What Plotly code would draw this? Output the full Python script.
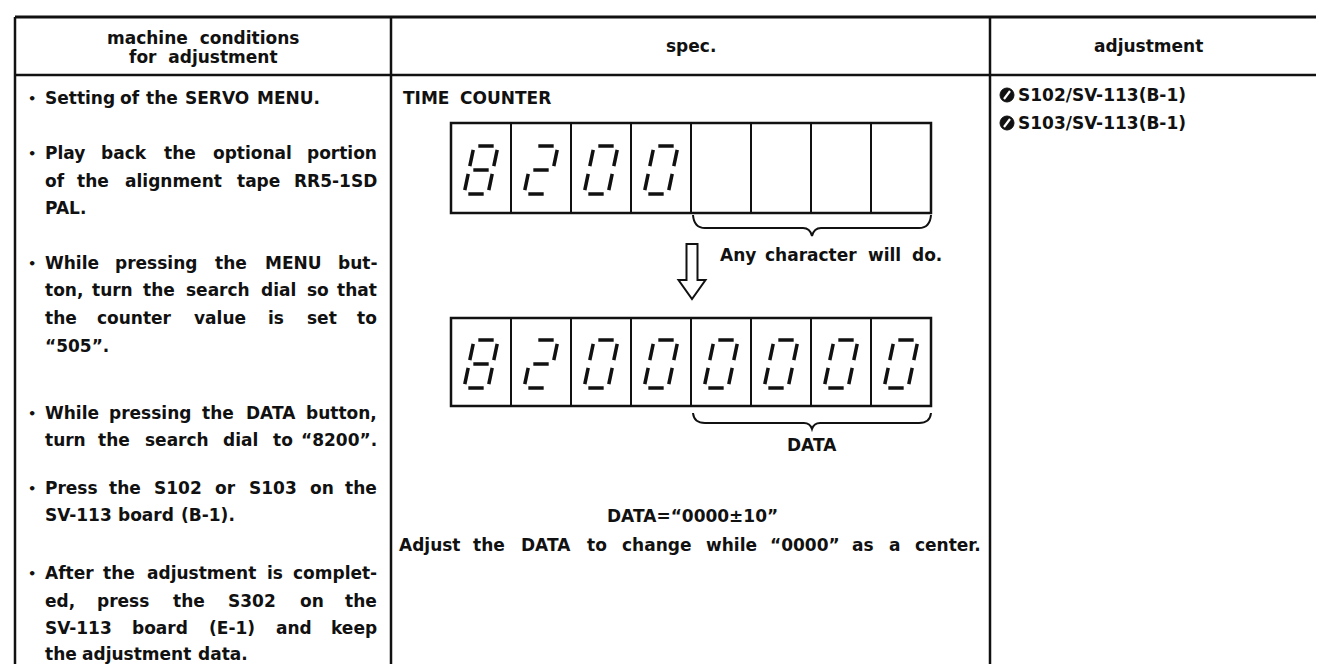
import plotly.graph_objects as go

# ---------------- data ----------------
header_cond = ["machine conditions", "for adjustment"]
header_spec = "spec."
header_adj = "adjustment"

cond_lines = [
    "Setting of the SERVO MENU.",
    "Play back the optional portion",
    "of the alignment tape RR5-1SD",
    "PAL.",
    "While pressing the MENU but-",
    "ton, turn the search dial so that",
    "the counter value is set to",
    "“505”.",
    "While pressing the DATA button,",
    "turn the search dial to “8200”.",
    "Press the S102 or S103 on the",
    "SV-113 board (B-1).",
    "After the adjustment is complet-",
    "ed, press the S302 on the",
    "SV-113 board (E-1) and keep",
    "the adjustment data.",
]
cond_bullet = [1, 1, 0, 0, 1, 0, 0, 0, 1, 0, 1, 0, 1, 0, 0, 0]
cond_justify = [0, 1, 1, 0, 1, 1, 1, 0, 1, 1, 1, 0, 1, 1, 1, 0]

spec_title = "TIME COUNTER"
display_before = ["8", "2", "0", "0", "", "", "", ""]
display_after = ["8", "2", "0", "0", "0", "0", "0", "0"]
note_any = "Any character will do."
label_data = "DATA"
spec_value = "DATA=“0000±10”"
spec_note = "Adjust the DATA to change while “0000” as a center."

adjust_points = ["S102/SV-113(B-1)", "S103/SV-113(B-1)"]

SEGMENTS = {"0": "abcdef", "2": "abged", "8": "abcdefg"}

# ---------------- layout helpers ----------------
W, H = 1324, 664
FONT = "DejaVu Sans"
FS = 17
INK = "#111111"

CW = {' ': 348, '!': 438, '"': 521, '(': 457, ')': 457, ',': 380, '-': 415, '.': 380,
      '/': 365, ':': 400, '=': 838, '±': 838, '“': 521, '”': 521, '·': 380}
for d in "0123456789":
    CW[d] = 696
CW.update({'A': 774, 'B': 762, 'C': 734, 'D': 830, 'E': 683, 'F': 683, 'G': 821, 'H': 837,
           'I': 372, 'J': 372, 'K': 775, 'L': 637, 'M': 995, 'N': 837, 'O': 850, 'P': 733,
           'Q': 850, 'R': 770, 'S': 720, 'T': 682, 'U': 812, 'V': 774, 'W': 1103, 'X': 771,
           'Y': 724, 'Z': 725, 'a': 675, 'b': 716, 'c': 593, 'd': 716, 'e': 678, 'f': 435,
           'g': 716, 'h': 712, 'i': 343, 'j': 343, 'k': 665, 'l': 343, 'm': 1042, 'n': 712,
           'o': 687, 'p': 716, 'q': 716, 'r': 493, 's': 595, 't': 478, 'u': 712, 'v': 652,
           'w': 924, 'x': 645, 'y': 652, 'z': 582})


def wwidth(s, size=FS):
    return sum(CW.get(c, 650) for c in s) * size / 1000.0


annotations = []
shapes = []


def txt(x, y, s, anchor="center", size=FS, bold=True):
    annotations.append(dict(
        x=x, y=y, xref="x", yref="y", text=s, showarrow=False,
        xanchor=anchor, yanchor="middle",
        font=dict(family=FONT, size=size, color=INK, weight="bold" if bold else "normal"),
    ))


def words_line(s, x0, x1, y, justify, gap=7, size=FS):
    words = [w for w in s.split(" ") if w]
    ws = [wwidth(w, size) for w in words]
    if justify and len(words) > 1:
        gap = (x1 - x0 - sum(ws)) / (len(words) - 1)
    x = x0
    n = len(words)
    for i, (w, wd) in enumerate(zip(words, ws)):
        if i == 0:
            txt(x, y, w, "left", size)
        elif justify and i == n - 1:
            txt(x1, y, w, "right", size)
        else:
            txt(x + wd / 2, y, w, "center", size)
        x += wd + gap


def line(x0, y0, x1, y1, w=2.5, color=INK):
    shapes.append(dict(type="line", xref="x", yref="y", x0=x0, y0=y0, x1=x1, y1=y1,
                       line=dict(color=color, width=w)))


def path(p, w=2, fill=None):
    d = dict(type="path", xref="x", yref="y", path=p, line=dict(color=INK, width=w))
    if fill:
        d["fillcolor"] = fill
    shapes.append(d)


# ---------------- table frame ----------------
X_L, X_C1, X_C2, X_R = 7, 383, 982, 1320
Y_T, Y_H = 9, 67
line(X_L, Y_T, X_R, Y_T, 3)
line(X_L, Y_H, X_R, Y_H, 2.5)
for xv in (X_L, X_C1, X_C2, X_R):
    line(xv, Y_T, xv, H + 5, 2.5)

# headers
txt((X_L + X_C1) / 2, 30, header_cond[0].replace(" ", "  "), size=17)
txt((X_L + X_C1) / 2, 49, header_cond[1].replace(" ", "  "), size=17)
txt((X_C1 + X_C2) / 2, 38, header_spec, size=17)
txt(1140, 38, header_adj, size=17)

# ---------------- left column ----------------
cond_y = [90, 145, 173, 200, 255, 282, 310, 338, 405, 432, 480, 507, 565, 593, 620, 646]
TX0, TX1 = 35, 371
for s, b, j, y in zip(cond_lines, cond_bullet, cond_justify, cond_y):
    if b:
        txt(24, y, "•", "center", 13)
    words_line(s, TX0, TX1, y, bool(j))

# ---------------- spec column ----------------
words_line(spec_title, 393, 0, 90, False, gap=12)

CELL_X0, CELL_W = 443, 60
DISP = [(115, 205, display_before), (310, 398, display_after)]


def digit(ch, cx, cy):
    segs = SEGMENTS.get(ch, "")
    Wd, Hd, S = 24, 48, 10
    hu0, hu1 = 0.18, 0.82
    def pt(u, v):
        return cx + (u - 0.5) * Wd + (v - 0.5) * S, cy - (v - 0.5) * Hd
    geo = {
        "a": ((hu0, 1), (hu1, 1)),
        "g": ((hu0, 0.5), (hu1, 0.5)),
        "d": ((hu0, 0), (hu1, 0)),
        "f": ((0, 0.92), (0, 0.58)),
        "b": ((1, 0.92), (1, 0.58)),
        "e": ((0, 0.42), (0, 0.08)),
        "c": ((1, 0.42), (1, 0.08)),
    }
    for sname in segs:
        (u0, v0), (u1, v1) = geo[sname]
        xa, ya = pt(u0, v0)
        xb, yb = pt(u1, v1)
        line(xa, ya, xb, yb, 3.5)


for (yt, yb, chars) in DISP:
    n = len(chars)
    shapes.append(dict(type="rect", xref="x", yref="y", x0=CELL_X0, x1=CELL_X0 + n * CELL_W,
                       y0=yt, y1=yb, line=dict(color=INK, width=2.5)))
    for i in range(1, n):
        xv = CELL_X0 + i * CELL_W
        line(xv, yt, xv, yb, 2)
    for i, ch in enumerate(chars):
        if ch:
            digit(ch, CELL_X0 + (i + 0.5) * CELL_W, (yt + yb) / 2 + 2)

# brace under blank cells of first display
bx0, bx1 = CELL_X0 + 4 * CELL_W + 2, CELL_X0 + 8 * CELL_W
bm = (bx0 + bx1) / 2
path(f"M {bx0},207 Q {bx0+1},220 {bx0+12},220 L {bm-9},220 Q {bm-2},220 {bm},228 "
     f"Q {bm+2},220 {bm+9},220 L {bx1-12},220 Q {bx1-1},220 {bx1},207", 2)
words_line(note_any, 710, 0, 247, False, gap=11)

# hollow down arrow
ax = CELL_X0 + 4 * CELL_W + 1
path(f"M {ax-5.5},236 L {ax+5.5},236 L {ax+5.5},272 L {ax+13.5},272 L {ax},291 "
     f"L {ax-13.5},272 L {ax-5.5},272 Z", 2, fill="white")

# brace under data cells of second display
path(f"M {bx0},405 Q {bx0+1},415 {bx0+12},415 L {bm-8},415 Q {bm-2},415 {bm},421 "
     f"Q {bm+2},415 {bm+8},415 L {bx1-12},415 Q {bx1-1},415 {bx1},405", 2)
txt(bm, 437, label_data)

txt((X_C1 + X_C2) / 2 + 2, 508, spec_value)
words_line(spec_note, 389, 975, 537, True)

# ---------------- adjustment column ----------------
for s, y in zip(adjust_points, [87, 115]):
    cx = 999
    shapes.append(dict(type="circle", xref="x", yref="y", x0=cx - 7, x1=cx + 7,
                       y0=y - 7, y1=y + 7, fillcolor=INK, line=dict(color=INK, width=1)))
    line(cx - 3, y + 4, cx + 3, y - 4, 2.2, color="white")
    txt(1008, y, s, "left", 17)

fig = go.Figure()
fig.update_layout(
    width=W, height=H,
    margin=dict(l=0, r=0, t=0, b=0),
    paper_bgcolor="white", plot_bgcolor="white",
    xaxis=dict(range=[0, W], visible=False, fixedrange=True),
    yaxis=dict(range=[H, 0], visible=False, fixedrange=True),
    shapes=shapes, annotations=annotations, showlegend=False,
)
fig.write_html("out.html")
